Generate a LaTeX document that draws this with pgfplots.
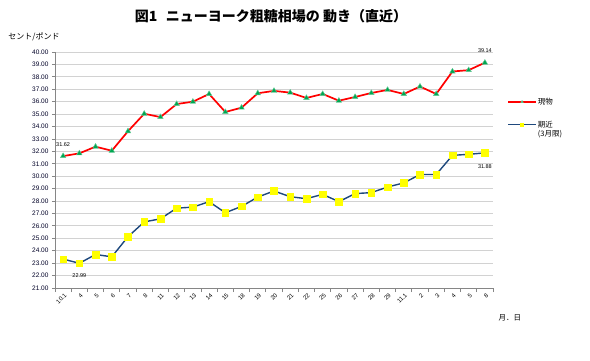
\documentclass[border=0pt]{standalone}
\usepackage{pgfplots}
\usepackage{pgfplotstable}
\pgfplotsset{compat=1.18}
\usepackage{fontspec}
\setmainfont{Liberation Sans}
\newfontfamily\cjk{Noto Sans CJK JP}
\definecolor{redline}{RGB}{255,0,0}
\definecolor{greenmk}{RGB}{0,166,81}
\definecolor{blueline}{RGB}{31,73,125}
\definecolor{yellowmk}{RGB}{255,255,0}
\definecolor{gridc}{RGB}{210,210,210}
\definecolor{axisc}{RGB}{134,134,134}

\pgfplotstableread{
x genbutsu kikin
0  31.62 23.33
1  31.84 22.99
2  32.38 23.70
3  32.05 23.51
4  33.62 25.13
5  35.03 26.32
6  34.76 26.57
7  35.81 27.43
8  36.00 27.51
9  36.62 27.95
10 35.17 27.06
11 35.52 27.57
12 36.68 28.32
13 36.87 28.81
14 36.73 28.35
15 36.30 28.19
16 36.62 28.54
17 36.08 27.95
18 36.38 28.60
19 36.70 28.68
20 36.95 29.13
21 36.62 29.46
22 37.22 30.14
23 36.62 30.14
24 38.43 31.68
25 38.54 31.76
26 39.14 31.88
}\data

\begin{document}
\begin{tikzpicture}
\useasboundingbox (0,0) rectangle (590pt,360pt);
\begin{axis}[
  at={(55pt,72pt)}, anchor=south west,
  scale only axis, width=438pt, height=236pt,
  xmin=-0.5, xmax=26.5, ymin=21, ymax=40,
  ytick={21,...,40},
  ymajorgrids, grid style={gridc, line width=0.8pt},
  axis x line*=bottom, axis y line*=left,
  axis line style={axisc, line width=0.8pt},
  xtick={0,...,26},
  xticklabels={10.1,4,5,6,7,8,11,12,13,14,15,18,19,20,21,22,25,26,27,28,29,11.1,2,3,4,5,8},
  major x tick style={draw=none},
  minor xtick={-0.5,0.5,...,26.5},
  minor tick length=4pt,
  minor x tick style={axisc, line width=0.8pt},
  major tick length=3pt,
  major y tick style={axisc, line width=0.8pt},
  tick align=outside,
  xticklabel style={rotate=45, anchor=east, font=\fontsize{6}{6.5}\selectfont, inner sep=0.5pt, yshift=-4pt},
  yticklabel style={font=\fontsize{6.5}{7}\selectfont, text=black!85!blue},
  /pgf/number format/.cd, fixed, fixed zerofill, precision=2, assume math mode=true,
  /pgfplots/.cd,
  legend style={at={(1.032,0.81)}, anchor=north west, draw=none, fill=none,
    font=\cjk\fontsize{7.5}{9}\selectfont, row sep=13pt, inner sep=0pt,
    nodes={inner sep=1pt}},
  legend cell align=left,
  legend image code/.code={\draw[mark repeat=2, mark phase=2, mark size=1.5pt] plot coordinates {(0pt,0pt) (14pt,0pt) (28pt,0pt)};},
  clip=false,
]
\addplot[redline, line width=1.7pt, mark=triangle*, mark size=3.2pt,
  mark options={fill=greenmk, draw=greenmk!60!white, line width=0.4pt}]
  table[x=x, y=genbutsu]{\data};
\addlegendentry{現物}
\addplot[blueline, line width=1.4pt, mark=square*, mark size=3.3pt,
  mark options={fill=yellowmk, draw=yellowmk, line width=0.4pt}]
  table[x=x, y=kikin]{\data};
\addlegendentry{\begin{tabular}[t]{@{}l@{}}期近\\(3月限)\end{tabular}}
\node[font=\fontsize{5.5}{6}\selectfont, above=6pt] at (axis cs:0,31.62) {31.62};
\node[font=\fontsize{5.5}{6}\selectfont, below=7pt] at (axis cs:1,22.99) {22.99};
\node[font=\fontsize{5.5}{6}\selectfont, above=7pt] at (axis cs:26,39.14) {39.14};
\node[font=\fontsize{5.5}{6}\selectfont, below=8pt] at (axis cs:26,31.88) {31.88};
\end{axis}
\node[font=\cjk\bfseries\fontsize{14}{15}\selectfont] at (271pt,344pt) {図1\hspace{0.6em}ニューヨーク粗糖相場の 動き（直近）};
\node[font=\cjk\fontsize{8}{9}\selectfont] at (34pt,323pt) {セント/ポンド};
\node[font=\cjk\fontsize{7.5}{9}\selectfont, anchor=west] at (495pt,42pt) {月．日};
\end{tikzpicture}
\end{document}
